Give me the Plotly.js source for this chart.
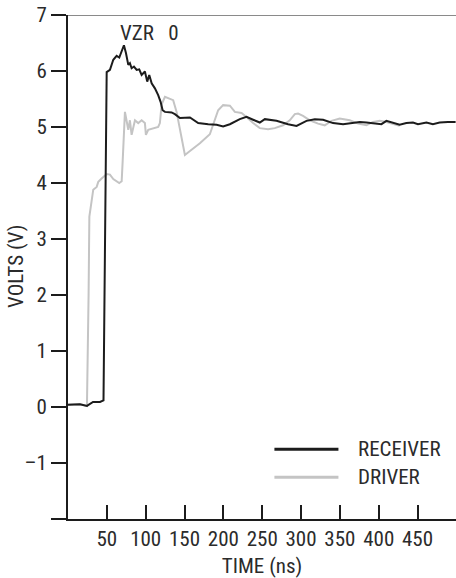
<!DOCTYPE html>
<html>
<head>
<meta charset="utf-8">
<script src="https://cdn.plot.ly/plotly-3.0.1.min.js"></script>
<style>html,body{margin:0;padding:0;background:#fff;}#chart{width:456px;height:578px;}</style>
</head>
<body>
<div id="chart"></div>
<script>
// Time (ns) and voltage (V)
var receiverTime = [0, 15.4, 24.4, 32.2, 41.2, 45.7, 49.8, 54.0, 58.3, 62.6, 66.0, 69.1, 72.0, 74.6, 77.6, 79.7, 81.9, 84.9, 88.4, 91.7, 94.8, 99.0, 102.0, 104.6, 107.7, 111.9, 116.1, 119.2, 121.8, 124.8, 133.4, 137.6, 144.1, 157.0, 161.2, 167.6, 180.5, 191.3, 199.7, 208.4, 221.2, 229.8, 238.3, 246.9, 253.4, 268.4, 283.3, 294.2, 307.0, 317.7, 328.4, 341.2, 354.1, 366.9, 375.6, 384.2, 392.7, 403.5, 409.9, 418.4, 427.0, 435.6, 444.1, 450.5, 461.4, 469.8, 478.5, 489.1, 499.0];
var receiverVolts = [0.04, 0.05, 0.02, 0.09, 0.09, 0.12, 5.98, 6.02, 6.20, 6.27, 6.24, 6.34, 6.46, 6.32, 6.11, 6.14, 6.05, 6.08, 6.02, 6.03, 5.93, 5.99, 5.81, 5.93, 5.78, 5.69, 5.57, 5.45, 5.30, 5.27, 5.26, 5.23, 5.16, 5.17, 5.13, 5.07, 5.05, 5.04, 5.01, 5.05, 5.14, 5.18, 5.13, 5.08, 5.14, 5.11, 5.05, 5.02, 5.11, 5.14, 5.13, 5.07, 5.05, 5.07, 5.09, 5.08, 5.07, 5.05, 5.11, 5.08, 5.04, 5.07, 5.08, 5.05, 5.08, 5.05, 5.08, 5.09, 5.09];

var driverTime = [0, 15.4, 24.4, 25.2, 26.5, 27.5, 29.2, 32.5, 36.9, 39.0, 43.3, 49.8, 54.0, 58.3, 66.0, 69.1, 70.4, 72.0, 73.3, 77.6, 79.7, 81.9, 86.2, 90.4, 94.8, 99.0, 100.3, 103.3, 109.7, 116.1, 118.3, 120.5, 124.8, 131.2, 135.4, 139.8, 144.1, 148.4, 150.5, 157.0, 169.8, 182.6, 189.1, 193.3, 199.7, 208.4, 214.8, 223.4, 229.8, 238.3, 246.9, 257.6, 266.2, 276.9, 285.5, 292.0, 296.2, 302.6, 311.3, 321.9, 330.5, 339.2, 349.8, 362.7, 373.4, 384.2, 392.7, 401.3, 409.9, 418.4, 427.0];
var driverVolts = [0.04, 0.05, 0.02, 0.6, 2.0, 3.4, 3.6, 3.88, 3.93, 4.02, 4.08, 4.16, 4.15, 4.07, 4.0, 4.03, 4.4, 4.95, 5.27, 4.95, 5.12, 4.86, 5.12, 5.07, 5.12, 5.07, 4.86, 4.95, 4.98, 5.0, 5.07, 5.4, 5.54, 5.51, 5.48, 5.27, 4.95, 4.59, 4.5, 4.57, 4.71, 4.87, 5.12, 5.3, 5.39, 5.38, 5.27, 5.25, 5.18, 5.07, 4.98, 4.96, 4.98, 5.03, 5.12, 5.23, 5.24, 5.2, 5.12, 5.06, 5.03, 5.11, 5.15, 5.12, 5.06, 5.03, 5.09, 5.11, 5.09, 5.06, 5.02];

var xTickVals = [50, 100, 150, 200, 250, 300, 350, 400, 450];
var xTickText = ['50', '100', '150', '200', '250', '300', '350', '400', '450'];
var yTickVals = [-2, -1, 0, 1, 2, 3, 4, 5, 6, 7];
var yTickText = ['', '\u20131', '0', '1', '2', '3', '4', '5', '6', '7'];
var seriesNames = ['RECEIVER', 'DRIVER'];
var xTitle = 'TIME (ns)';
var yTitle = 'VOLTS (V)';

var FONT = '"Liberation Sans Narrow", "Arial Narrow", "Roboto Condensed", "Liberation Sans", sans-serif';
var FS = 21;
var TXT = '#2b2b2b';
var BLACK = '#1c1c1c';
var GRAY = '#c4c4c4';

var traces = [
  {x: driverTime, y: driverVolts, type: 'scatter', mode: 'lines', name: seriesNames[1],
   line: {color: GRAY, width: 2}, hoverinfo: 'skip'},
  {x: receiverTime, y: receiverVolts, type: 'scatter', mode: 'lines', name: seriesNames[0],
   line: {color: BLACK, width: 2}, hoverinfo: 'skip'}
];

var layout = {
  width: 456, height: 578,
  margin: {l: 68, r: 0, t: 15, b: 59, pad: 0},
  paper_bgcolor: '#fff', plot_bgcolor: '#fff',
  showlegend: false,
  font: {family: FONT, size: FS, color: TXT},
  xaxis: {
    range: [0, 499.5], showgrid: false, zeroline: false,
    showline: true, linecolor: BLACK, linewidth: 2,
    ticks: 'inside', ticklen: 14, tickwidth: 2, tickcolor: BLACK,
    tickmode: 'array', tickvals: xTickVals, ticktext: xTickText,
    tickfont: {family: FONT, size: FS, color: TXT},
    title: {text: xTitle, font: {family: FONT, size: FS, color: TXT}, standoff: 8}
  },
  yaxis: {
    range: [-2, 7], showgrid: false, zeroline: false,
    showline: true, linecolor: BLACK, linewidth: 2,
    ticks: 'outside', ticklen: 15, tickwidth: 2, tickcolor: BLACK,
    tickmode: 'array', tickvals: yTickVals, ticktext: yTickText,
    tickfont: {family: FONT, size: FS, color: TXT}
  },
  shapes: [
    {type: 'line', xref: 'paper', yref: 'y', x0: 0, x1: 1, y0: 7, y1: 7,
     line: {color: '#8a8a8a', width: 2}},
    {type: 'line', xref: 'paper', yref: 'paper', x0: 0.532, x1: 0.697, y0: 0.1385, y1: 0.1385,
     line: {color: BLACK, width: 3}},
    {type: 'line', xref: 'paper', yref: 'paper', x0: 0.532, x1: 0.697, y0: 0.083, y1: 0.083,
     line: {color: GRAY, width: 3}}
  ],
  annotations: [
    {x: -0.134, y: 0.5, xref: 'paper', yref: 'paper', xanchor: 'center', yanchor: 'middle',
     text: yTitle, textangle: -90, showarrow: false, font: {family: FONT, size: FS, color: TXT}},
    {x: 105, y: 6.68, xref: 'x', yref: 'y', text: 'VZR\u00a0\u00a0\u00a00', showarrow: false,
     font: {family: FONT, size: FS, color: TXT}},
    {x: 0.743, y: 0.1385, xref: 'paper', yref: 'paper', xanchor: 'left', yanchor: 'middle',
     text: seriesNames[0], showarrow: false, font: {family: FONT, size: FS, color: TXT}},
    {x: 0.743, y: 0.083, xref: 'paper', yref: 'paper', xanchor: 'left', yanchor: 'middle',
     text: seriesNames[1], showarrow: false, font: {family: FONT, size: FS, color: TXT}}
  ]
};

Plotly.newPlot('chart', traces, layout, {staticPlot: true, displayModeBar: false});
</script>
</body>
</html>
